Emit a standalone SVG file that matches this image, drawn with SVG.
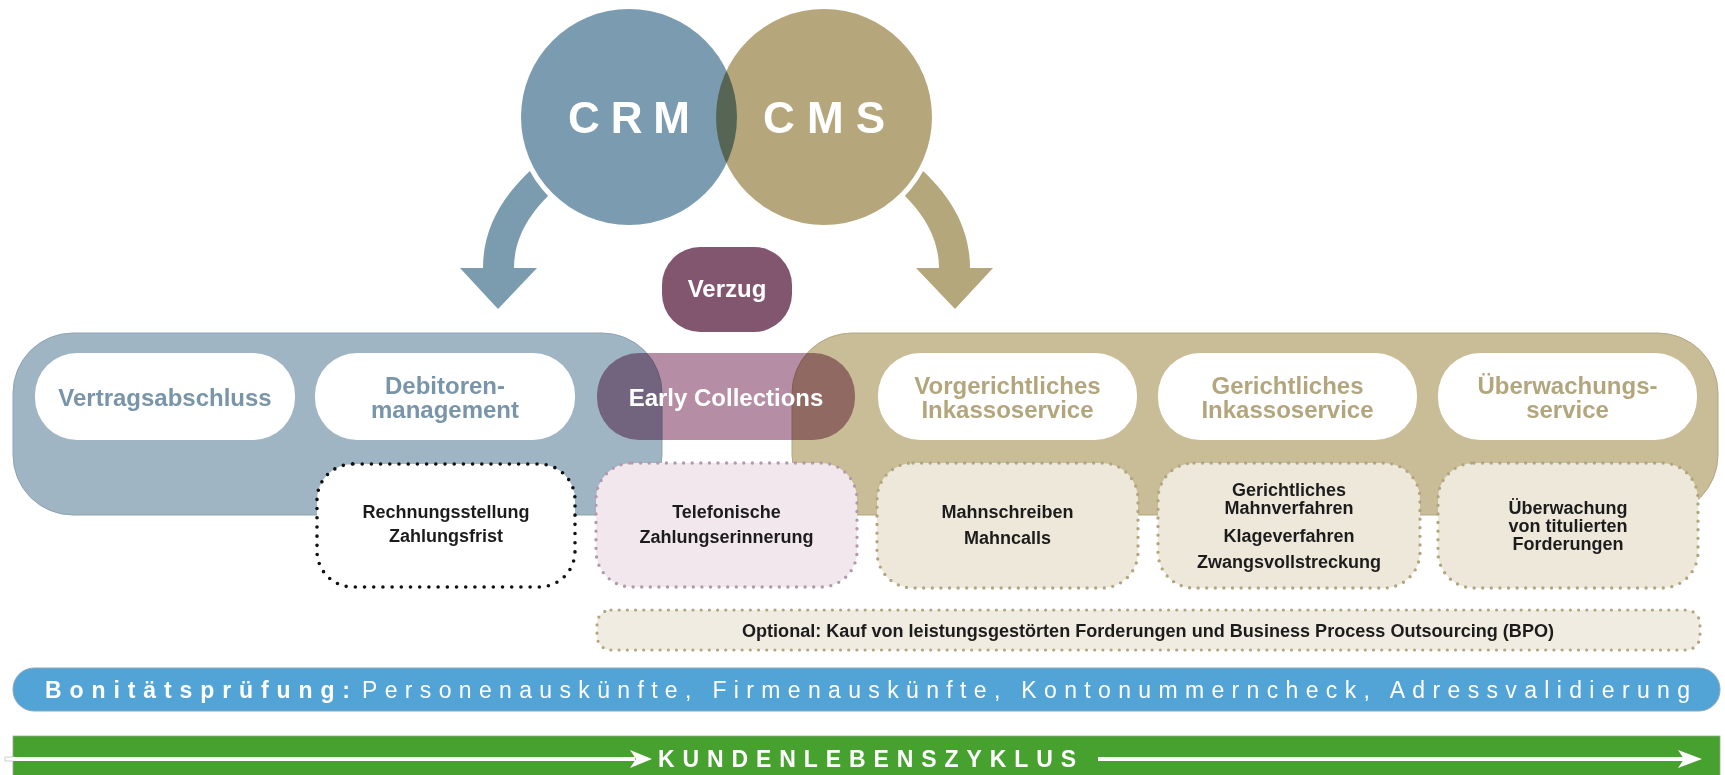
<svg xmlns="http://www.w3.org/2000/svg" width="1725" height="775" viewBox="0 0 1725 775">
<style>
text{font-family:"Liberation Sans",Arial,sans-serif;}
.mul{mix-blend-mode:multiply;}
.wb{fill:#ffffff;}
.hb{font-size:24px;font-weight:bold;fill:#7895AA;text-anchor:middle;}
.ht{font-size:24px;font-weight:bold;fill:#B3A67D;text-anchor:middle;}
.wt{font-size:24px;font-weight:bold;fill:#ffffff;text-anchor:middle;}
.dt{font-size:18px;font-weight:bold;fill:#1c1c1c;text-anchor:middle;}
.dotk{fill:#ffffff;stroke:#111111;stroke-width:3.6;stroke-dasharray:0 9.2;stroke-linecap:round;}
.dotp{fill:#F1E7ED;stroke:#B299AB;stroke-width:3.4;stroke-dasharray:0 8.6;stroke-linecap:round;}
.dott{fill:#EDE8DA;stroke:#B2A681;stroke-width:3.4;stroke-dasharray:0 8.6;stroke-linecap:round;}
.dotl{fill:#F0ECE2;stroke:#B2A681;stroke-width:3.2;stroke-dasharray:0 8.2;stroke-linecap:round;}
</style>

<g id="connectors">
  <path d="M545,158 C505,190 483,225 483,268 L460,268 L498,309 L537,268 L514,268 C514,238 530,210 560,185 Z" fill="#7B9BAF"/>
  <path d="M908,158 C948,190 970,225 970,268 L993,268 L955,309 L916,268 L939,268 C939,238 923,210 893,185 Z" fill="#B5A77C"/>
</g>

<g id="circles">
  <circle cx="629" cy="117" r="113" fill="#ffffff"/>
  <circle cx="824" cy="117" r="113" fill="#ffffff"/>
  <g id="crm">
    <circle cx="629" cy="117" r="108" fill="#7A9BB0"/>
    <text x="568" y="133" font-size="44" font-weight="bold" fill="#ffffff" textLength="122" lengthAdjust="spacing">CRM</text>
  </g>
  <g id="cms">
    <circle class="mul" cx="824" cy="117" r="108" fill="#B5A67B"/>
    <text x="763" y="133" font-size="44" font-weight="bold" fill="#ffffff" textLength="122" lengthAdjust="spacing">CMS</text>
  </g>
</g>

<g id="verzug">
  <rect x="662" y="247" width="130" height="85" rx="38" fill="#835670"/>
  <text class="wt" x="727" y="297">Verzug</text>
</g>

<g id="container-crm">
  <rect x="13" y="333" width="649" height="182" rx="60" fill="#A0B5C4" stroke="#8FA3B2" stroke-width="1"/>
</g>
<g id="container-cms">
  <rect x="792" y="333" width="926" height="182" rx="60" fill="#C9BD98" stroke="#B3A784" stroke-width="1"/>
</g>

<g id="vertragsabschluss">
  <rect class="wb" x="35" y="353" width="260" height="87" rx="42"/>
  <text class="hb" x="165" y="406">Vertragsabschluss</text>
</g>
<g id="debitorenmanagement">
  <rect class="wb" x="315" y="353" width="260" height="87" rx="42"/>
  <text class="hb" x="445" y="394">Debitoren-</text>
  <text class="hb" x="445" y="418">management</text>
</g>
<g id="early-collections">
  <rect class="mul" x="597" y="353" width="258" height="87" rx="42" fill="#B58DA5"/>
  <text class="wt" x="726" y="406">Early Collections</text>
</g>
<g id="vorgerichtliches">
  <rect class="wb" x="878" y="353" width="259" height="87" rx="42"/>
  <text class="ht" x="1007.5" y="394">Vorgerichtliches</text>
  <text class="ht" x="1007.5" y="418">Inkassoservice</text>
</g>
<g id="gerichtliches">
  <rect class="wb" x="1158" y="353" width="259" height="87" rx="42"/>
  <text class="ht" x="1287.5" y="394">Gerichtliches</text>
  <text class="ht" x="1287.5" y="418">Inkassoservice</text>
</g>
<g id="ueberwachungsservice">
  <rect class="wb" x="1438" y="353" width="259" height="87" rx="42"/>
  <text class="ht" x="1567.5" y="394">Überwachungs-</text>
  <text class="ht" x="1567.5" y="418">service</text>
</g>

<g id="rechnungsstellung">
  <rect class="dotk" x="317" y="464" width="258" height="123" rx="36"/>
  <text class="dt" x="446" y="518">Rechnungsstellung</text>
  <text class="dt" x="446" y="542">Zahlungsfrist</text>
</g>
<g id="telefonische">
  <rect class="dotp" x="596" y="463" width="261" height="124" rx="36"/>
  <text class="dt" x="726.5" y="518">Telefonische</text>
  <text class="dt" x="726.5" y="543">Zahlungserinnerung</text>
</g>
<g id="mahnschreiben">
  <rect class="dott" x="877" y="463" width="261" height="125" rx="36"/>
  <text class="dt" x="1007.5" y="518">Mahnschreiben</text>
  <text class="dt" x="1007.5" y="544">Mahncalls</text>
</g>
<g id="gerichtliches-mahnverfahren">
  <rect class="dott" x="1158" y="463" width="262" height="125" rx="36"/>
  <text class="dt" x="1289" y="496">Gerichtliches</text>
  <text class="dt" x="1289" y="514">Mahnverfahren</text>
  <text class="dt" x="1289" y="542">Klageverfahren</text>
  <text class="dt" x="1289" y="568">Zwangsvollstreckung</text>
</g>
<g id="ueberwachung">
  <rect class="dott" x="1438" y="463" width="260" height="125" rx="36"/>
  <text class="dt" x="1568" y="514">Überwachung</text>
  <text class="dt" x="1568" y="532">von titulierten</text>
  <text class="dt" x="1568" y="550">Forderungen</text>
</g>

<g id="optional">
  <rect class="dotl" x="597" y="610" width="1103" height="40" rx="14"/>
  <text x="742" y="637" font-size="18" font-weight="bold" fill="#1c1c1c" textLength="812" lengthAdjust="spacingAndGlyphs">Optional: Kauf von leistungsgestörten Forderungen und Business Process Outsourcing (BPO)</text>
</g>

<g id="bonitaetspruefung">
  <rect x="13" y="668" width="1707" height="43" rx="21" fill="#53A4D6" stroke="#8FA7B8" stroke-width="1"/>
  <text x="45" y="698" font-size="23" font-weight="bold" fill="#ffffff" textLength="305" lengthAdjust="spacing">Bonitätsprüfung:</text>
  <text x="362" y="698" font-size="23" fill="#ffffff" textLength="1328" lengthAdjust="spacing">Personenauskünfte, Firmenauskünfte, Kontonummerncheck, Adressvalidierung</text>
</g>

<g id="kundenlebenszyklus">
  <rect x="13" y="736" width="1707" height="44" fill="#47A12F" stroke="#9aa59a" stroke-width="0.8"/>
  <rect x="5" y="757" width="9" height="4" fill="#ffffff" stroke="#bbbbbb" stroke-width="0.7"/>
  <rect x="13" y="757" width="622" height="4" fill="#ffffff"/>
  <path d="M652,759 L630,750 L636,759 L630,768 Z" fill="#ffffff"/>
  <text x="658" y="767" font-size="23" font-weight="bold" fill="#ffffff" textLength="418" lengthAdjust="spacing">KUNDENLEBENSZYKLUS</text>
  <rect x="1098" y="757" width="586" height="4" fill="#ffffff"/>
  <path d="M1702,759 L1678,750 L1684,759 L1678,768 Z" fill="#ffffff"/>
</g>
</svg>
